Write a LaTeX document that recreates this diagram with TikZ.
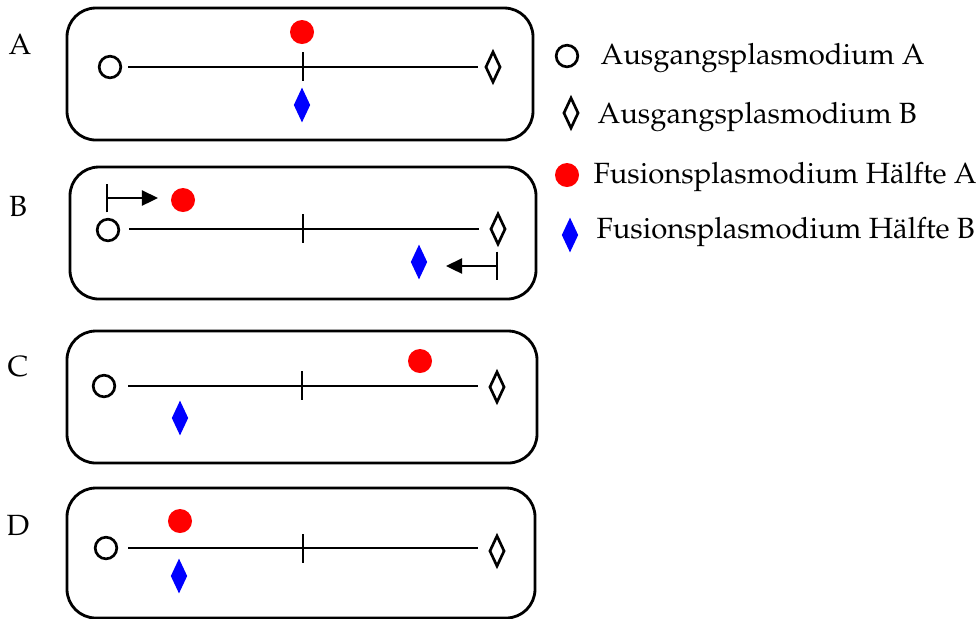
\documentclass[tikz,border=0pt]{standalone}
\usepackage[T1]{fontenc}
\usepackage{mathpazo}
\usetikzlibrary{shapes.geometric,arrows.meta}

\begin{document}
\begin{tikzpicture}[x=0.0125cm, y=-0.0125cm,
  font=\fontsize{10.4}{12}\selectfont,
  panel/.style = {draw, line width=1pt, rounded corners=0.36cm},
  achse/.style = {line width=0.55pt},
  startA/.style = {draw, circle, line width=0.95pt, minimum size=0.27cm, inner sep=0pt},
  startB/.style = {draw, diamond, line width=0.95pt, minimum width=0.19cm, minimum height=0.39cm, inner sep=0pt},
  halbA/.style = {fill=red, circle, minimum size=0.3cm, inner sep=0pt},
  halbB/.style = {fill=blue, diamond, minimum width=0.21cm, minimum height=0.44cm, inner sep=0pt},
  weg/.style = {line width=0.55pt, {Bar[width=0.36cm]}-{Triangle[length=0.2cm,width=0.19cm]}},
  txt/.style = {anchor=base west, inner sep=0pt},
  buchst/.style = {anchor=base, inner sep=0pt}]
\useasboundingbox (0,0) rectangle (976,618);

% A: Ausgangslage
\draw[panel] (67,8) rectangle (533,140);
\node[buchst] (tA) at (20,54) {A};
\node[startA] (a1) at (110,67) {};
\node[startB] (b1) at (493,67) {};
\coordinate (l1) at (128,67);
\coordinate (r1) at (478,67);
\draw[achse] (l1) -- (r1);
\draw[achse] (303,52) -- (303,81);
\node[halbA] (fa1) at (302,32) {};
\node[halbB] (fb1) at (302,105) {};

% B: Haelften wandern
\draw[panel] (70,167) rectangle (536,299);
\node[buchst] (tB) at (18,216) {B};
\node[startA] (a2) at (108,230) {};
\node[startB] (b2) at (498,229) {};
\coordinate (l2) at (129,229);
\coordinate (r2) at (479,229);
\draw[achse] (l2) -- (r2);
\draw[achse] (303,214) -- (303,243);
\node[halbA] (fa2) at (183,200) {};
\node[halbB] (fb2) at (419,262) {};
\coordinate (w1) at (106,198);
\coordinate (w2) at (158,198);
\coordinate (w3) at (498,266);
\coordinate (w4) at (446,266);
\draw[weg] (w1) -- (w2);
\draw[weg] (w3) -- (w4);

% C
\draw[panel] (67,331) rectangle (537,463);
\node[buchst] (tC) at (18,376) {C};
\node[startA] (a3) at (104,386) {};
\node[startB] (b3) at (497,387) {};
\coordinate (l3) at (128,386);
\coordinate (r3) at (478,386);
\draw[achse] (l3) -- (r3);
\draw[achse] (302,371) -- (302,400);
\node[halbA] (fa3) at (420,361) {};
\node[halbB] (fb3) at (180,418) {};

% D
\draw[panel] (67,488) rectangle (535,618);
\node[buchst] (tD) at (18,535) {D};
\node[startA] (a4) at (106,548) {};
\node[startB] (b4) at (497,551) {};
\coordinate (l4) at (128,548);
\coordinate (r4) at (478,548);
\draw[achse] (l4) -- (r4);
\draw[achse] (303,534) -- (303,563);
\node[halbA] (fa4) at (180,521) {};
\node[halbB] (fb4) at (179,576) {};

% Legende
\node[startA] (la) at (567,56) {};
\node[txt] (ta) at (600,64) {Ausgangsplasmodium A};
\node[startB] (lb) at (571,113) {};
\node[txt] (tb) at (597,123) {Ausgangsplasmodium B};
\node[halbA] (lc) at (567,175) {};
\node[txt] (tc) at (593,183) {Fusionsplasmodium H\"alfte A};
\node[halbB] (ld) at (570,235) {};
\node[txt] (td) at (596,238) {Fusionsplasmodium H\"alfte B};
\end{tikzpicture}
\end{document}
